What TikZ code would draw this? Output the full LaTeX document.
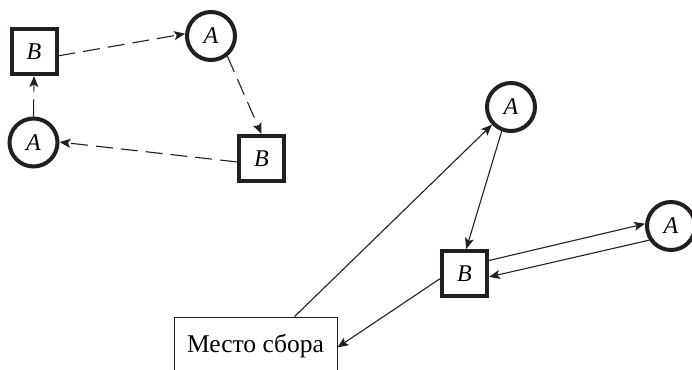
\documentclass[tikz,border=0pt]{standalone}
\usepackage{fontspec}
\setmainfont{Liberation Serif}
\usetikzlibrary{arrows.meta}
\tikzset{
  sq/.style={draw=ink,line width=4pt,minimum size=45pt,inner sep=0pt,fill=white,font=\fontsize{24}{26}\selectfont\itshape},
  ci/.style={circle,draw=ink,line width=4pt,minimum size=48pt,inner sep=0pt,fill=white,font=\fontsize{24}{26}\selectfont\itshape},
  conn/.style={draw=ink,line width=1.1pt,-{Stealth[length=11pt,width=9pt,inset=2.5pt]}},
  dconn/.style={conn,dash pattern=on 17pt off 8pt},
  place/.style={draw=ink,line width=0.8pt,minimum width=163pt,minimum height=58pt,inner sep=0pt,fill=white,font=\fontsize{25.5}{28}\selectfont}
}
\definecolor{ink}{HTML}{231F20}
\begin{document}
\begin{tikzpicture}[x=1pt,y=-1pt]
\useasboundingbox (0,0) rectangle (692,369);
\clip (0,0) rectangle (692,369);
\node[sq] (b1) at (34,51.5) {B};
\node[ci] (a1) at (211,36) {A};
\node[ci] (a2) at (33.5,142.5) {A};
\node[sq] (b2) at (261.5,158.5) {B};
\node[ci] (a3) at (511,107) {A};
\node[sq] (b3) at (464.5,273.5) {B};
\node[ci] (a4) at (671,226) {A};
\node[place] (box) at (255.5,346) {Место сбора};
\draw[dconn] (b1.-10.6) -- (a1.175.6);
\draw[dconn] (a1.-51) -- (b2.90);
\draw[dconn] (b2.188) -- (a2.1);
\draw[dconn] (a2.90) -- (b1.-90);
\draw[conn] (a3.-111) -- (b3.86);
\draw[conn] (box.37.7) -- (a3.223.5);
\draw[conn] (b3.192.6) -- (box.-1.4);
\draw[conn] (b3.28.9) -- (a4.175.6);
\draw[conn] (a4.213) -- (b3.-8.1);
\end{tikzpicture}
\end{document}
